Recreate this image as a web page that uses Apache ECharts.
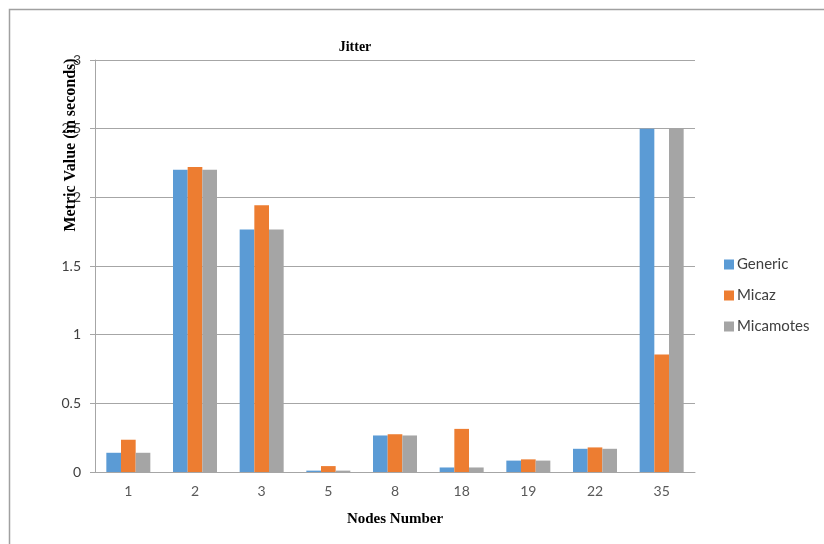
<!DOCTYPE html>
<html>
<head>
<meta charset="utf-8">
<script src="https://cdn.jsdelivr.net/npm/echarts@6/dist/echarts.min.js"></script>
<style>
  html, body { margin: 0; padding: 0; background: #fff; }
  #chart { width: 824px; height: 544px; }
</style>
</head>
<body>
<div id="chart"></div>
<script>
// Jitter per node, in seconds
const nodes = ['1', '2', '3', '5', '8', '18', '19', '22', '35'];
const generic   = [0.14, 2.20, 1.766, 0.010, 0.266, 0.033, 0.083, 0.169, 2.50];
const micaz     = [0.235, 2.22, 1.942, 0.043, 0.275, 0.314, 0.092, 0.179, 0.855];
const micamotes = [0.14, 2.20, 1.766, 0.010, 0.266, 0.033, 0.083, 0.169, 2.50];
const seriesNames = ['Generic', 'Micaz', 'Micamotes'];
const colors = ['#5b9bd5', '#ed7d31', '#a5a5a5'];

const chart = echarts.init(document.getElementById('chart'), null, { renderer: 'canvas' });

const labelFont = 'Lato, "Open Sans", sans-serif';
const titleFont = '"Liberation Serif", "DejaVu Serif", serif';

chart.setOption({
  animation: false,
  backgroundColor: '#ffffff',
  grid: { left: 95, right: 129, top: 60, bottom: 72, containLabel: false },
  legend: {
    orient: 'vertical',
    left: 719,
    top: 252,
    itemWidth: 10,
    itemHeight: 10,
    itemGap: 16,
    icon: 'rect',
    data: seriesNames,
    textStyle: { fontFamily: labelFont, fontSize: 15, color: '#404040', padding: [0, 0, 0, -2] }
  },
  xAxis: {
    type: 'category',
    data: nodes,
    axisLine: { lineStyle: { color: '#a6a6a6', width: 1 } },
    axisTick: { show: false },
    axisLabel: { fontFamily: labelFont, fontSize: 14, color: '#595959', margin: 12 }
  },
  yAxis: {
    type: 'value',
    min: 0,
    max: 3,
    interval: 0.5,
    axisLine: { show: true, lineStyle: { color: '#a6a6a6', width: 1 } },
    axisTick: { show: true, length: 5, lineStyle: { color: '#a6a6a6' } },
    splitLine: { lineStyle: { color: '#a6a6a6', width: 1 } },
    axisLabel: { fontFamily: labelFont, fontSize: 14, color: '#404040', margin: 14 }
  },
  series: [
    { name: seriesNames[0], type: 'bar', data: generic, itemStyle: { color: colors[0] }, barGap: '0%', barCategoryGap: '34%' },
    { name: seriesNames[1], type: 'bar', data: micaz, itemStyle: { color: colors[1] }, barGap: '0%', barCategoryGap: '34%' },
    { name: seriesNames[2], type: 'bar', data: micamotes, itemStyle: { color: colors[2] }, barGap: '0%', barCategoryGap: '34%' }
  ],
  graphic: [
    {
      type: 'rect', silent: true, z: 100,
      shape: { x: 9.5, y: 9.5, width: 830, height: 560 },
      style: { fill: 'none', stroke: '#a0a0a0', lineWidth: 1.5 }
    },
    {
      type: 'text', z: 100, x: 355, y: 47,
      style: { text: 'Jitter', font: 'bold 14px ' + titleFont, fill: '#000', align: 'center', verticalAlign: 'middle' }
    },
    {
      type: 'text', z: 100, x: 71, y: 145, rotation: Math.PI / 2,
      style: { text: 'Metric Value (in seconds)', font: 'bold 16px ' + titleFont, fill: '#000', align: 'center', verticalAlign: 'middle' }
    },
    {
      type: 'text', z: 100, x: 395, y: 519,
      style: { text: 'Nodes Number', font: 'bold 15px ' + titleFont, fill: '#000', align: 'center', verticalAlign: 'middle' }
    }
  ]
});
</script>
</body>
</html>
